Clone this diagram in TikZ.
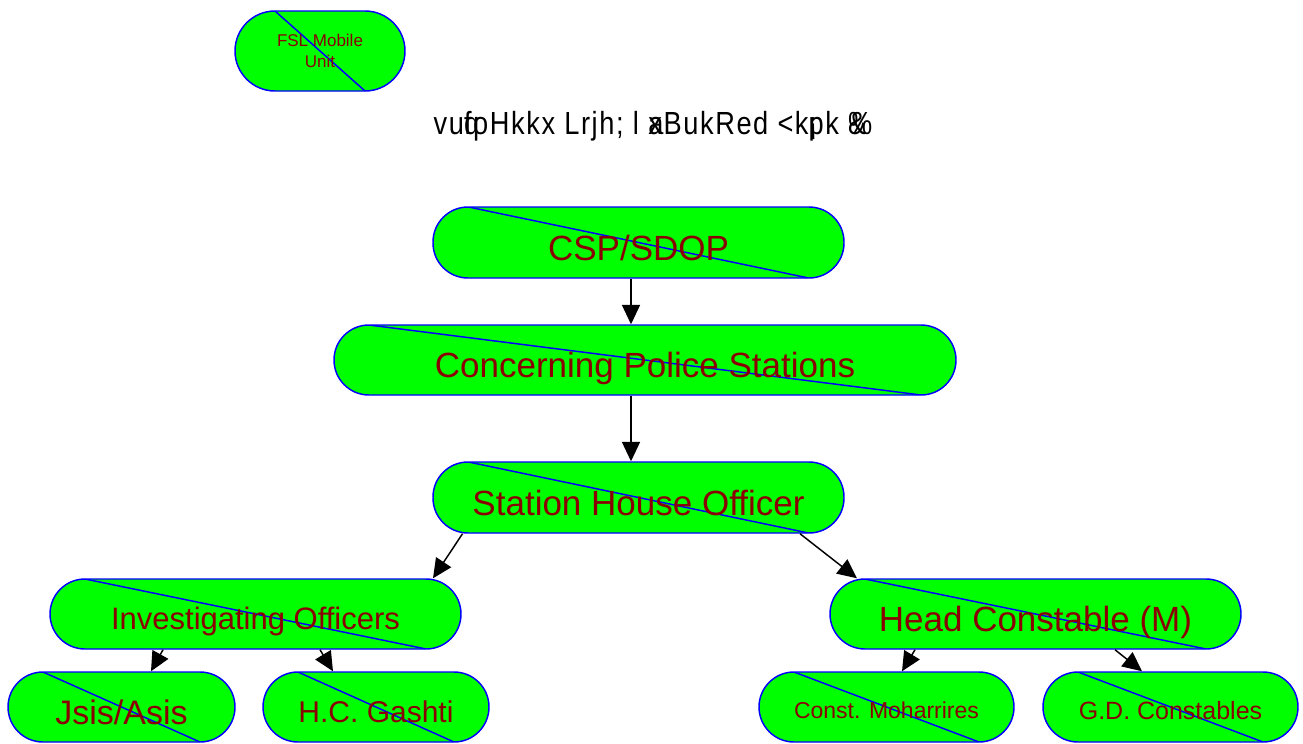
\documentclass[tikz,border=0pt]{standalone}
\usepackage{fontspec}
\setmainfont{Liberation Sans}
\newfontfamily\narrowfont{Liberation Sans}[FakeStretch=0.85,LetterSpace=5]
\usepackage{tikz}
\usetikzlibrary{arrows.meta}
\usetikzlibrary{calc}
\definecolor{boxgreen}{RGB}{0,255,0}
\definecolor{boxblue}{RGB}{0,0,255}
\definecolor{boxtext}{RGB}{139,0,0}

\begin{document}
\begin{tikzpicture}[x=0.75pt,y=-0.75pt,line width=1.1pt]

			\tikzstyle{post} = [draw=boxblue,fill=boxgreen,text=boxtext,inner sep=0pt,
				minimum height=52.5pt,rounded corners=26.25pt,
				font=\fontsize{#1}{#1}\selectfont,text height=#1pt,text depth=0pt,
				path picture={\draw[boxblue] let \p1=(path picture bounding box.north west),
					\p2=(path picture bounding box.south east), \n1={(\y1-\y2)/2} in
					(\x1+\n1,\y1) -- (\x2-\n1,\y2);}]
			\tikzstyle{link} = [black,-{Triangle[length=14.5pt,width=13.5pt]}]

			\useasboundingbox (0,0) rectangle (1303,743);

			% top
			\node[post=12.75,minimum width=127.5pt,minimum height=60pt,rounded corners=30pt,
				text height=,text depth=,align=center,
				font=\fontsize{12.75}{15.75}\selectfont] (fsl) at (320,51) {FSL Mobile\\Unit};
			\node[font=\narrowfont\fontsize{24}{28}\selectfont] (title) at (650,126)
				{vu\rlap{q}foHkkx Lrjh; l\hspace{0.3em}\rlap{a}xBukRed <k\rlap{¡}pk \rlap{\%}\&};

			% chain
			\node[post=26.25,minimum width=308.25pt,minimum height=53.25pt] (csp) at (638.5,242.5) {CSP/SDOP};
			\node[post=26.25,minimum width=466.5pt] (cps) at (645,360) {Concerning Police Stations};
			\node[post=26.25,minimum width=308.25pt,minimum height=53.25pt] (sho) at (638.5,497.5) {Station House Officer};

			% second row
			\node[post=23.25,minimum width=308.25pt] (io) at (255.5,614) {Investigating Officers};
			\node[post=26.25,minimum width=308.25pt] (hc) at (1035.5,614) {Head Constable (M)};

			% bottom row
			\node[post=25.5,minimum width=170.25pt] (jsis) at (121.5,707) {Jsis/Asis};
			\node[post=22.5,minimum width=169.5pt] (gashti) at (376,707) {H.C. Gashti};
			\node[post=17.25,minimum width=191.25pt] (mohar) at (886.5,707) {Const. Moharrires};
			\node[post=18.75,minimum width=191.25pt] (gd) at (1170.5,707) {G.D. Constables};

			% arrows
			\draw[link] ($(csp.south)+(-7.5,0)$) -- ($(cps.north)+(-14,0)$);
			\draw[link] ($(cps.south)+(-14,0)$) -- ($(sho.north)+(-7.5,0)$);
			\draw[link] ($(sho.south)+(-176,0)$) -- ($(io.north)+(177.5,0)$);
			\draw[link] ($(sho.south)+(161.5,0)$) -- ($(hc.north)+(-178.5,0)$);
			\draw[link] ($(io.south)+(-92.5,0)$) -- ($(jsis.north)+(29.5,0)$);
			\draw[link] ($(io.south)+(64.5,0)$) -- ($(gashti.north)+(-43,0)$);
			\draw[link] ($(hc.south)+(-120.5,0)$) -- ($(mohar.north)+(15.5,0)$);
			\draw[link] ($(hc.south)+(79.5,0)$) -- ($(gd.north)+(-28.5,0)$);
		\end{tikzpicture}
\end{document}
